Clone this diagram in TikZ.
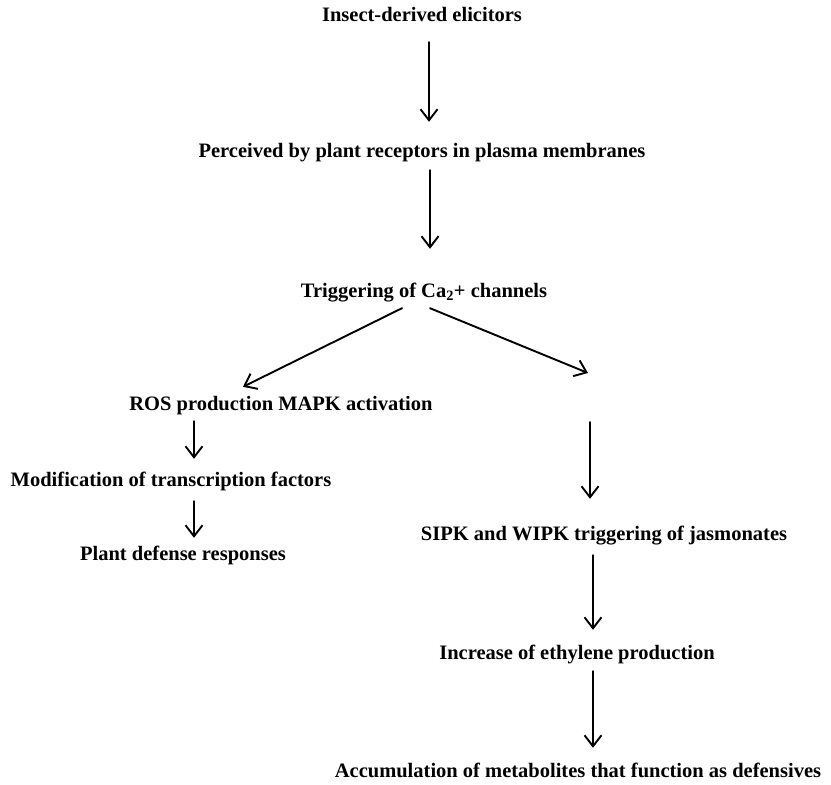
\documentclass[tikz,border=0pt]{standalone}
\usepackage{fontspec}
\setmainfont{Liberation Serif}
\usetikzlibrary{arrows.meta}

\begin{document}
\begin{tikzpicture}[x=1pt,y=-1pt,
  stage/.style={inner sep=0pt,anchor=base,text height=15pt,text depth=5pt,
                font=\fontsize{20.5}{24}\selectfont\bfseries},
  arr/.style={-{Straight Barb[length=11pt,width=17pt]},line width=1.9pt,line cap=round}
]
  \useasboundingbox (0,0) rectangle (831,785);

  % ---- Main stem ------------------------------------------------
  \node[stage] (elic) at (422,21)  {Insect-derived elicitors};
  \node[stage] (perc) at (422,157) {Perceived by plant receptors in plasma membranes};
  \node[stage] (calc) at (424,297) {Triggering of Ca\textsubscript{2}+ channels};

  \draw[arr] ([xshift=7pt,yshift=-16pt]elic.south) -- ([xshift=7pt,yshift=20pt]perc.north);
  \draw[arr] ([xshift=8pt,yshift=-8pt]perc.south) -- ([xshift=6pt,yshift=33pt]calc.north);

  % ---- Left branch ----------------------------------------------
  \node[stage] (ros)  at (281,410) {ROS production MAPK activation};
  \node[stage] (modf) at (171,486) {Modification of transcription factors};
  \node[stage] (resp) at (183,560) {Plant defense responses};

  \draw[arr] ([xshift=-22pt,yshift=-6pt]calc.south) -- ([xshift=-38pt,yshift=8pt]ros.north);
  \draw[arr] ([xshift=-87pt,yshift=-6pt]ros.south) -- ([xshift=23pt,yshift=12pt]modf.north);
  \draw[arr] ([xshift=23pt,yshift=-10pt]modf.south) -- ([xshift=11pt,yshift=7pt]resp.north);

  % ---- Right branch ---------------------------------------------
  \coordinate (rend) at (588,373);
  \coordinate (rtop) at (590,422);
  \node[stage] (sipk) at (604,540) {SIPK and WIPK triggering of jasmonates};
  \node[stage] (ethy) at (577,659) {Increase of ethylene production};
  \node[stage] (accu) at (578,777) {Accumulation of metabolites that function as defensives};

  \draw[arr] ([xshift=6pt,yshift=-6pt]calc.south) -- (rend);
  \draw[arr] (rtop) -- ([xshift=-14pt,yshift=26pt]sipk.north);
  \draw[arr] ([xshift=-11pt,yshift=-10pt]sipk.south) -- ([xshift=16pt,yshift=14pt]ethy.north);
  \draw[arr] ([xshift=16pt,yshift=-7pt]ethy.south) -- ([xshift=15pt,yshift=14pt]accu.north);
\end{tikzpicture}
\end{document}
